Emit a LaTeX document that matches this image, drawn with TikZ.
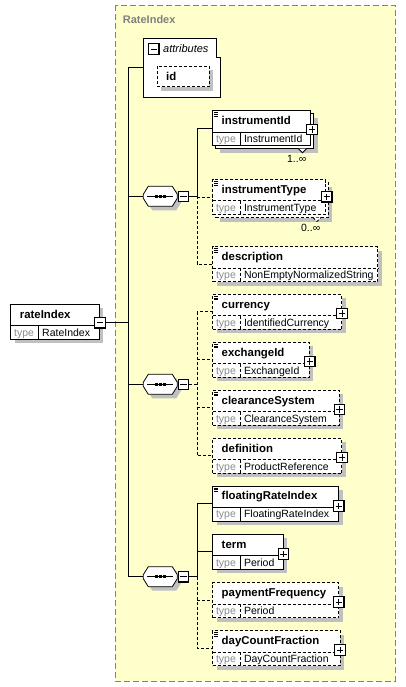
\documentclass[tikz,border=0pt]{standalone}
\usepackage{fontspec}
\setmainfont{Liberation Sans}
\usetikzlibrary{shadows,calc}
\definecolor{frameyellow}{HTML}{FFFFCC}
\definecolor{framegray}{HTML}{808080}
\definecolor{shadowgray}{HTML}{C0C0C0}
\definecolor{typegray}{HTML}{8C8C8C}
\tikzset{
  ebox/.style={rectangle, draw=black, fill=white, line width=0.8pt, inner sep=0pt, outer sep=0pt},
  eshadow/.style={drop shadow={shadow xshift=4pt, shadow yshift=-4pt, fill=shadowgray, opacity=1}},
  opt/.style={dash pattern=on 3pt off 2pt},
  thinline/.style={line width=0.8pt},
  titletext/.style={font=\fontsize{11.4}{13}\selectfont\bfseries, anchor=base west, inner sep=0pt},
  typelbl/.style={font=\fontsize{10.5}{12}\selectfont, text=typegray, anchor=base west, inner sep=0pt},
  typeval/.style={font=\fontsize{10.5}{12}\selectfont, anchor=base west, inner sep=0pt},
  pmbox/.style={rectangle, draw=black, fill=white, line width=1.1pt, minimum size=10.5pt, inner sep=0pt, outer sep=0pt},
  conn/.style={line width=0.8pt},
}
% #1 node extra, #2 line extra, #3 name, #4 x, #5 y, #6 width, #7 title, #8 type
\newcommand{\elem}[8]{%
  \node[ebox,#1,minimum width=#6pt,minimum height=35pt,anchor=north west] (#3) at (#4,#5) {};
  \draw[thinline,#2] ([yshift=-21.3pt]#3.north west) -- ([yshift=-21.3pt]#3.north east);
  \draw[thinline,#2] ([xshift=28pt,yshift=-21.3pt]#3.north west) -- ([xshift=28pt]#3.south west);
  \node[titletext] (#3-t) at ([xshift=9pt,yshift=-13.8pt]#3.north west) {#7};
  \node[typelbl] (#3-k) at ([xshift=3.3pt,yshift=-31.8pt]#3.north west) {type};
  \node[typeval] (#3-v) at ([xshift=31.3pt,yshift=-31.8pt]#3.north west) {#8};
}
\newcommand{\plusat}[3]{%
  \node[pmbox] (#1) at (#2,#3) {};
  \draw[line width=0.7pt] ([xshift=-3.2pt]#1.center) -- ([xshift=3.2pt]#1.center);
  \draw[line width=0.7pt] ([yshift=-3.2pt]#1.center) -- ([yshift=3.2pt]#1.center);
}
\newcommand{\minusat}[3]{%
  \node[pmbox] (#1) at (#2,#3) {};
  \draw[line width=0.7pt] ([xshift=-3.2pt]#1.center) -- ([xshift=3.2pt]#1.center);
}
\newcommand{\docicon}[1]{%
  \draw[line width=0.6pt] ([xshift=1.6pt,yshift=-2pt]#1.north west) -- ++(4pt,0pt);
  \draw[line width=0.6pt] ([xshift=1.6pt,yshift=-3.7pt]#1.north west) -- ++(4pt,0pt);
  \draw[line width=0.6pt] ([xshift=1.6pt,yshift=-5.4pt]#1.north west) -- ++(4pt,0pt);
}
% name, cx, cy
\newcommand{\seqsym}[3]{%
  \node[inner sep=0pt,outer sep=0pt,minimum width=34pt,minimum height=20pt] (#1) at (#2,#3) {};
  \begin{scope}[shift={(#2,#3)}]
    \draw[thinline, fill=white, eshadow] (-17,-2) -- (-12,-10) -- (12,-10) -- (17,-2) -- (17,2) -- (12,10) -- (-12,10) -- (-17,2) -- cycle;
    \draw[thinline] (-13,0) -- (13,0);
    \fill (-5.2,-1.3) rectangle (-2.6,1.3);
    \fill (-1.3,-1.3) rectangle (1.3,1.3);
    \fill (2.6,-1.3) rectangle (5.2,1.3);
  \end{scope}
  \minusat{#1m}{#2+23}{#3}
}
\begin{document}
\begin{tikzpicture}[x=1pt,y=-1pt]
\useasboundingbox (0,0) rectangle (406,687);
% frame
\draw[framegray, fill=frameyellow, dash pattern=on 6pt off 3pt, line width=0.9pt] (115.5,5.5) rectangle (395,681);
\node[font=\fontsize{11}{13}\selectfont\bfseries, text=framegray, anchor=base west, inner sep=0pt] (ctitle) at (122.7,23.3) {RateIndex};

% attributes
\node[inner sep=0pt,outer sep=0pt,minimum width=77.7pt,minimum height=59pt,anchor=north west] (attr) at (143,38) {};
\draw[thinline, fill=white] (143,38) -- (216,38) -- (216,57) -- (220.7,57) -- (220.7,97) -- (143,97) -- cycle;
\minusat{attrm}{153.7}{49}
\node[font=\fontsize{11}{13}\selectfont\itshape, anchor=base west, inner sep=0pt] (attrt) at (163,53) {attributes};
\node[ebox, eshadow, opt, minimum width=52pt, minimum height=20.7pt, anchor=north west] (id) at (157,66) {};
\node[titletext] (idt) at (166,80.5) {id};

% root element
\elem{eshadow}{}{rateIndex}{10.7}{304.3}{88.6}{rateIndex}{RateIndex}
\minusat{rateIndexm}{100}{322.7}

% sequences
\seqsym{seqa}{160.3}{196.3}
\seqsym{seqb}{160.3}{384.3}
\seqsym{seqc}{160.3}{576.7}

% instrumentId (stacked)
\node[ebox, eshadow, minimum width=98pt, minimum height=35pt, anchor=north west] (instrumentId-b) at (215.5,113.7) {};
\draw[thinline, fill=white] (298.5,148.7) -- (302.5,152.7) -- (306.5,148.7);
\elem{}{}{instrumentId}{212.5}{110.7}{98}{instrumentId}{InstrumentId}
\docicon{instrumentId}
\plusat{instrumentIdp}{312}{129.5}
\node[typeval, anchor=base east] (cardA) at (306.5,163) {1..∞};

% instrumentType (stacked)
\node[ebox, eshadow, opt, minimum width=112.7pt, minimum height=35pt, anchor=north west] (instrumentType-b) at (215.5,182.5) {};
\draw[thinline, opt, fill=white] (313,217.5) -- (317,221.5) -- (321,217.5);
\elem{opt}{opt}{instrumentType}{212.5}{179.5}{112.7}{instrumentType}{InstrumentType}
\docicon{instrumentType}
\plusat{instrumentTypep}{326.7}{196.7}
\node[typeval, anchor=base east] (cardB) at (320.5,231) {0..∞};

\elem{eshadow,opt}{opt}{description}{212.5}{246.7}{165.2}{description}{NonEmptyNormalizedString}
\docicon{description}

\elem{eshadow,opt}{opt}{currency}{212.5}{294.3}{129.2}{currency}{IdentifiedCurrency}
\docicon{currency}
\plusat{currencyp}{342}{313.3}

\elem{eshadow,opt}{opt}{exchangeId}{212.5}{342.3}{96.8}{exchangeId}{ExchangeId}
\docicon{exchangeId}
\plusat{exchangeIdp}{309.7}{361.3}

\elem{eshadow,opt}{opt}{clearanceSystem}{212.5}{390.3}{126.5}{clearanceSystem}{ClearanceSystem}
\docicon{clearanceSystem}
\plusat{clearanceSystemp}{339.3}{409.3}

\elem{eshadow,opt}{opt}{definition}{212.5}{438.3}{129.2}{definition}{ProductReference}
\plusat{definitionp}{342}{457.3}

\elem{eshadow}{}{floatingRateIndex}{212.5}{486}{126.2}{floatingRateIndex}{FloatingRateIndex}
\docicon{floatingRateIndex}
\plusat{floatingRateIndexp}{338.7}{506}

\elem{eshadow}{}{term}{212.5}{534.3}{70.8}{term}{Period}
\plusat{termp}{283.3}{554}

\elem{eshadow,opt}{opt}{paymentFrequency}{212.5}{582.7}{126.2}{paymentFrequency}{Period}
\plusat{paymentFrequencyp}{338.7}{602}

\elem{eshadow,opt}{opt}{dayCountFraction}{212.5}{630.7}{127.5}{dayCountFraction}{DayCountFraction}
\docicon{dayCountFraction}
\plusat{dayCountFractionp}{340}{650}

% connectors
\coordinate (tk) at (128.7,0);
\coordinate (bus) at (197.3,0);
\draw[conn] (attr.west) -| (tk |- seqc.west) -- (seqc.west);
\draw[conn] (rateIndexm.east) -- (rateIndexm.east -| tk);
\draw[conn] (tk |- seqa.west) -- (seqa.west);
\draw[conn] (tk |- seqb.west) -- (seqb.west);

\draw[conn] (seqam.east) -- (seqam.east -| bus) |- (instrumentId.west);
\draw[conn,opt] (seqam.east -| bus) |- (instrumentType.west);
\draw[conn,opt] (seqam.east -| bus) |- (description.west);

\draw[conn,opt] (seqbm.east) -- (seqbm.east -| bus);
\draw[conn,opt] (currency.west) -| (bus |- definition.west) -- (definition.west);
\draw[conn,opt] (bus |- exchangeId.west) -- (exchangeId.west);
\draw[conn,opt] (bus |- clearanceSystem.west) -- (clearanceSystem.west);

\draw[conn] (seqcm.east) -- (seqcm.east -| bus) |- (floatingRateIndex.west);
\draw[conn] (bus |- term.west) -- (term.west);
\draw[conn,opt] (seqcm.east -| bus) |- (dayCountFraction.west);
\draw[conn,opt] (bus |- paymentFrequency.west) -- (paymentFrequency.west);
\end{tikzpicture}
\end{document}
